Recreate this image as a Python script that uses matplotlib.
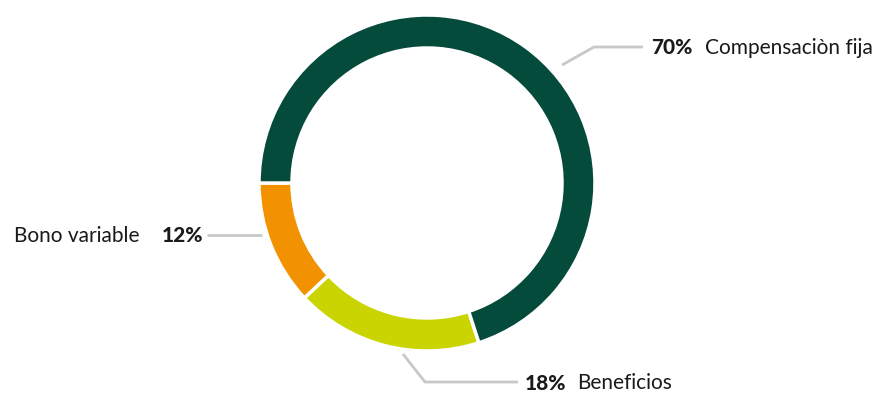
import matplotlib.pyplot as plt

# composition of total compensation (percent)
categories = ["Bono variable", "Beneficios", "Compensaciòn fija"]
shares = [12, 18, 70]
colors = ["#f39200", "#c9d400", "#054b3c"]

H = 393  # figure height in px, used to flip y so we can think in pixels

fig = plt.figure(figsize=(8.84, 3.93), dpi=100)
ax = fig.add_axes([0, 0, 1, 1])

ax.pie(shares, colors=colors, startangle=180, counterclock=True,
       radius=168, center=(427, H - 183),
       wedgeprops=dict(width=33, edgecolor="white", linewidth=2.5))
ax.set_xlim(0, 884)
ax.set_ylim(0, H)
ax.set_aspect("equal")
ax.axis("off")

line_col = "#c8c8c8"
font = "Lato"
fs = 15
txt_col = "#1a1a1a"

# leader lines (pixel coords, y from top)
leaders = {
    "Compensaciòn fija": [(562, 65), (594, 47), (643, 47)],
    "Bono variable": [(207, 235), (262, 235)],
    "Beneficios": [(403, 354), (425, 382), (518, 382)],
}
for pts in leaders.values():
    ax.plot([p[0] for p in pts], [H - p[1] for p in pts], color=line_col, lw=2,
            solid_capstyle="butt")

# labels
ax.text(651, H - 48, f"{shares[2]}%", fontsize=fs, fontweight="black", family=font,
        va="center", ha="left", color=txt_col)
ax.text(705, H - 48, categories[2], fontsize=fs, family=font, va="center", ha="left",
        color=txt_col)

ax.text(203, H - 236, f"{shares[0]}%", fontsize=fs, fontweight="black", family=font,
        va="center", ha="right", color=txt_col)
ax.text(139, H - 236, categories[0], fontsize=fs, family=font, va="center", ha="right",
        color=txt_col)

ax.text(525, H - 383, f"{shares[1]}%", fontsize=fs, fontweight="black", family=font,
        va="center", ha="left", color=txt_col)
ax.text(577, H - 383, categories[1], fontsize=fs, family=font, va="center", ha="left",
        color=txt_col)

fig.savefig("out.png", dpi=100)
